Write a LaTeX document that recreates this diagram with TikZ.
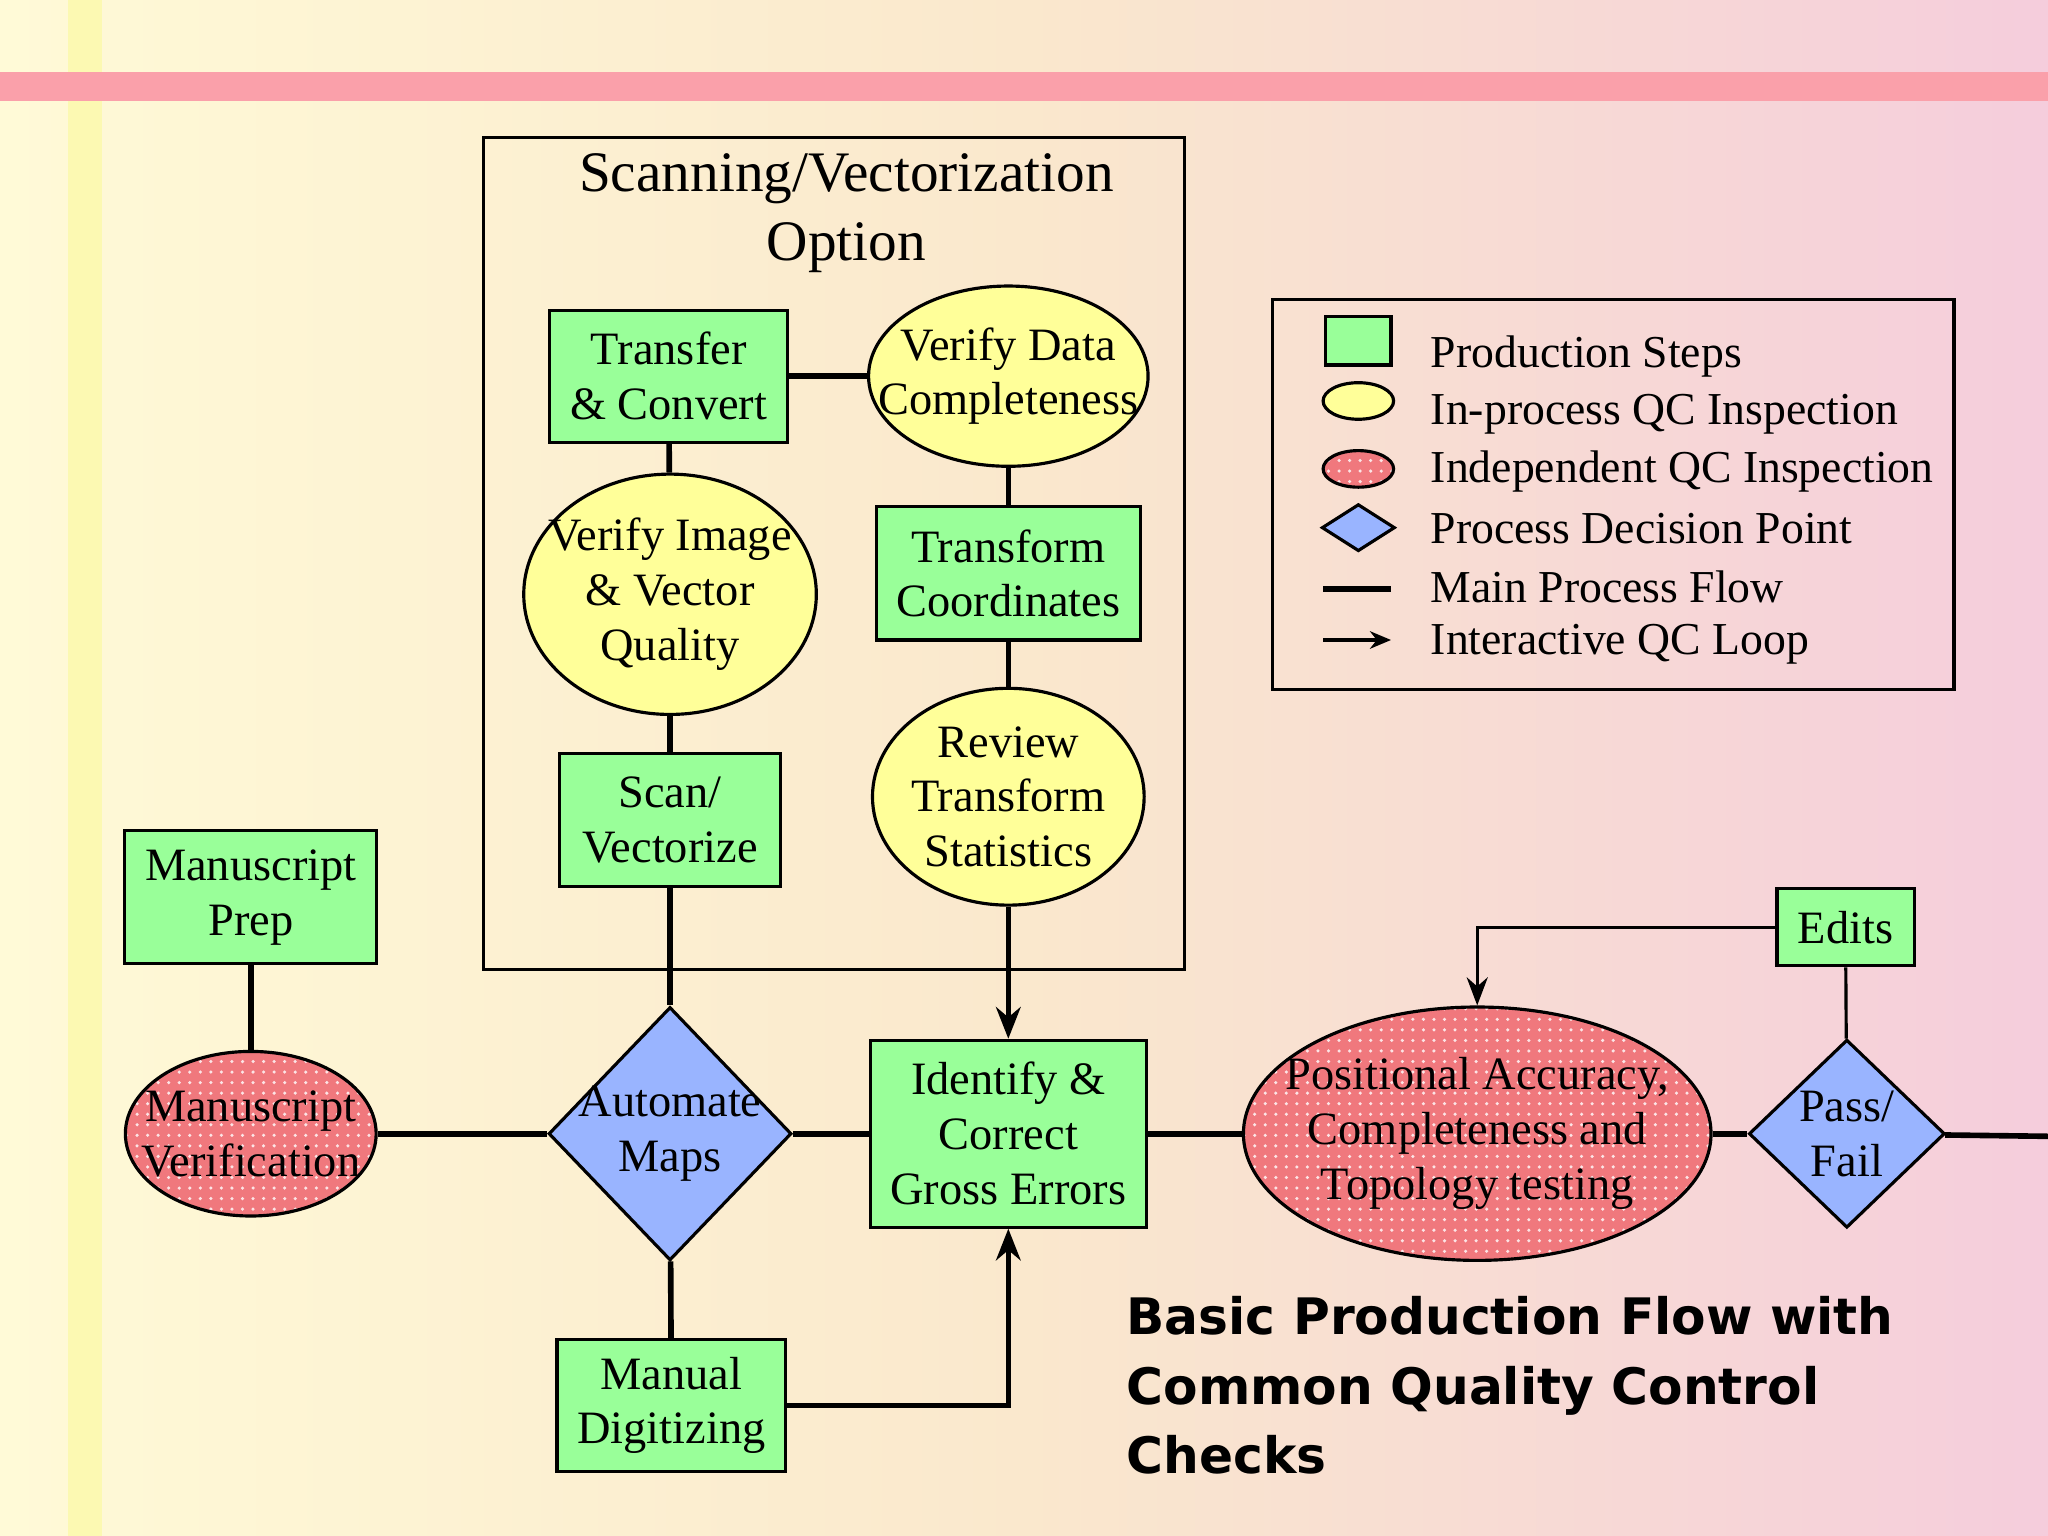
\documentclass[tikz,border=0pt]{standalone}
\usepackage{fontspec}
\setmainfont{Liberation Serif}
\newfontfamily\ttl{DejaVu Sans}
\usetikzlibrary{shapes.geometric,patterns,arrows.meta}
\definecolor{pg}{RGB}{153,255,153}
\definecolor{py}{RGB}{255,255,153}
\definecolor{pr}{RGB}{240,120,125}
\definecolor{pb}{RGB}{153,180,255}
\definecolor{bgl}{RGB}{255,250,215}
\definecolor{bgm}{RGB}{250,232,205}
\definecolor{bgr}{RGB}{245,205,220}
\definecolor{ystripe}{RGB}{252,250,170}
\definecolor{pbar}{RGB}{250,160,170}
\begin{document}
\begin{tikzpicture}[x={(0.013061cm,0)},y={(0,-0.013061cm)},
 every node/.style={font=\fontsize{13.2}{15.6}\selectfont,align=center,draw=black,line width=0.9pt},
 txt/.style={draw=none,fill=none},
 box/.style={rectangle,fill=pg,inner sep=0},
 yel/.style={ellipse,fill=py,inner sep=0},
 red/.style={ellipse,inner sep=0,preaction={fill=pr},pattern=dots,pattern color=white!80!pr},
 dia/.style={diamond,fill=pb,inner sep=0},
 main/.style={line width=1.6pt},
 thin/.style={line width=0.9pt}]
\useasboundingbox (0,0) rectangle (1568,1176);
\shade[left color=bgl,right color=bgr,middle color=bgm] (0,0) rectangle (1568,1176);
\fill[ystripe,opacity=0.8] (52,0) rectangle (78,1176);
\fill[pbar] (0,55) rectangle (1568,77);
% scanning box
\draw[thin] (370,105) rectangle (907,742);
\node[txt,font=\fontsize{16.3}{19.5}\selectfont] (st) at (648,163) {Scanning/Vectorization\\Option};
\node[box,minimum width={182*0.013061cm},minimum height={101*0.013061cm}] (tc) at (512,288) {Transfer\\\& Convert};
\node[yel,minimum width={214*0.013061cm},minimum height={138*0.013061cm}] (vd) at (772,288) {};
\node[txt] (vdt) at (vd) {Verify Data\\Completeness};
\node[yel,minimum width={224*0.013061cm},minimum height={184*0.013061cm}] (vi) at (513,455) {};
\node[txt] (vit) at (vi) {Verify Image\\\& Vector\\Quality};
\node[box,minimum width={202*0.013061cm},minimum height={102*0.013061cm}] (tr) at (772,439) {Transform\\Coordinates};
\node[box,minimum width={169*0.013061cm},minimum height={102*0.013061cm}] (sv) at (513,628) {Scan/\\Vectorize};
\node[yel,minimum width={208*0.013061cm},minimum height={166*0.013061cm}] (rt) at (772,610) {};
\node[txt] (rtt) at (rt) {Review\\Transform\\Statistics};
\node[box,minimum width={193*0.013061cm},minimum height={102*0.013061cm}] (mp) at (192,687) {Manuscript\\Prep};
\node[red,minimum width={192*0.013061cm},minimum height={126*0.013061cm}] (mv) at (192,868) {};
\node[txt] (mvt) at (mv) {Manuscript\\Verification};
\node[dia,minimum width={186*0.013061cm},minimum height={194*0.013061cm}] (am) at (513,868) {};
\node[txt] (amt) at (am) {Automate\\Maps};
\node[box,minimum width={211*0.013061cm},minimum height={143*0.013061cm}] (ic) at (772,868) {Identify \&\\Correct\\Gross Errors};
\node[red,minimum width={358*0.013061cm},minimum height={194*0.013061cm}] (pa) at (1131,868) {};
\node[txt] (pat) at (pa) {Positional Accuracy,\\Completeness and\\Topology testing};
\node[box,minimum width={105*0.013061cm},minimum height={59*0.013061cm}] (ed) at (1413,710) {Edits};
\node[dia,minimum width={150*0.013061cm},minimum height={144*0.013061cm}] (pf) at (1414,868) {};
\node[txt] (pft) at (pf) {Pass/\\Fail};
\node[box,minimum width={175*0.013061cm},minimum height={101*0.013061cm}] (md) at (514,1076) {Manual\\Digitizing};
\coordinate (end) at (1568,870);
% connectors
\draw[main] (tc) -- (vd);
\draw[main] (tc) -- (vi);
\draw[main] (vi) -- (sv);
\draw[main] (sv) -- (am);
\draw[main] (vd) -- (tr);
\draw[main] (tr) -- (rt);
\draw[main,-{Stealth[length=9pt,width=7pt]}] (rt) -- (ic);
\draw[main] (mp) -- (mv);
\draw[main] (mv) -- (am);
\draw[main] (am) -- (ic);
\draw[main] (ic) -- (pa);
\draw[main] (pa) -- (pf);
\draw[main] (pf) -- (end);
\draw[main] (am) -- (md);
\draw[main,-{Stealth[length=9pt,width=7pt]}] (md) -| (ic);
\draw[thin,-{Stealth[length=8pt,width=6pt]}] (ed.west) -| (pa.north);
\draw[thin] (pf) -- (ed);
% legend
\draw[thin] (974,229) rectangle (1496,528);
\node[box,minimum width={50*0.013061cm},minimum height={37*0.013061cm}] (l1) at (1040,261) {};
\node[yel,minimum width={54*0.013061cm},minimum height={28*0.013061cm}] (l2) at (1040,307) {};
\node[red,minimum width={54*0.013061cm},minimum height={28*0.013061cm}] (l3) at (1040,359) {};
\node[dia,minimum width={56*0.013061cm},minimum height={36*0.013061cm}] (l4) at (1040,404) {};
\coordinate (l5a) at (1013,451); \coordinate (l5b) at (1065,451);
\draw[main] (l5a) -- (l5b);
\coordinate (l6a) at (1013,490); \coordinate (l6b) at (1065,490);
\draw[thin,-{Stealth[length=6pt,width=5pt]}] (l6a) -- (l6b);
\begin{scope}[every node/.style={font=\fontsize{13}{15.6}\selectfont,anchor=west,inner sep=0}]
\node (t1) at (1095,273) {Production Steps};
\node (t2) at (1095,317) {In-process QC Inspection};
\node (t3) at (1095,361) {Independent QC Inspection};
\node (t4) at (1095,405) {Process Decision Point};
\node (t5) at (1095,449) {Main Process Flow};
\node (t6) at (1095,493) {Interactive QC Loop};
\node[font=\ttl\bfseries\fontsize{14.3}{19.8}\selectfont,align=left,anchor=north west] (tt) at (862,992) {Basic Production Flow with\\Common Quality Control\\Checks};
\end{scope}
\end{tikzpicture}
\end{document}
